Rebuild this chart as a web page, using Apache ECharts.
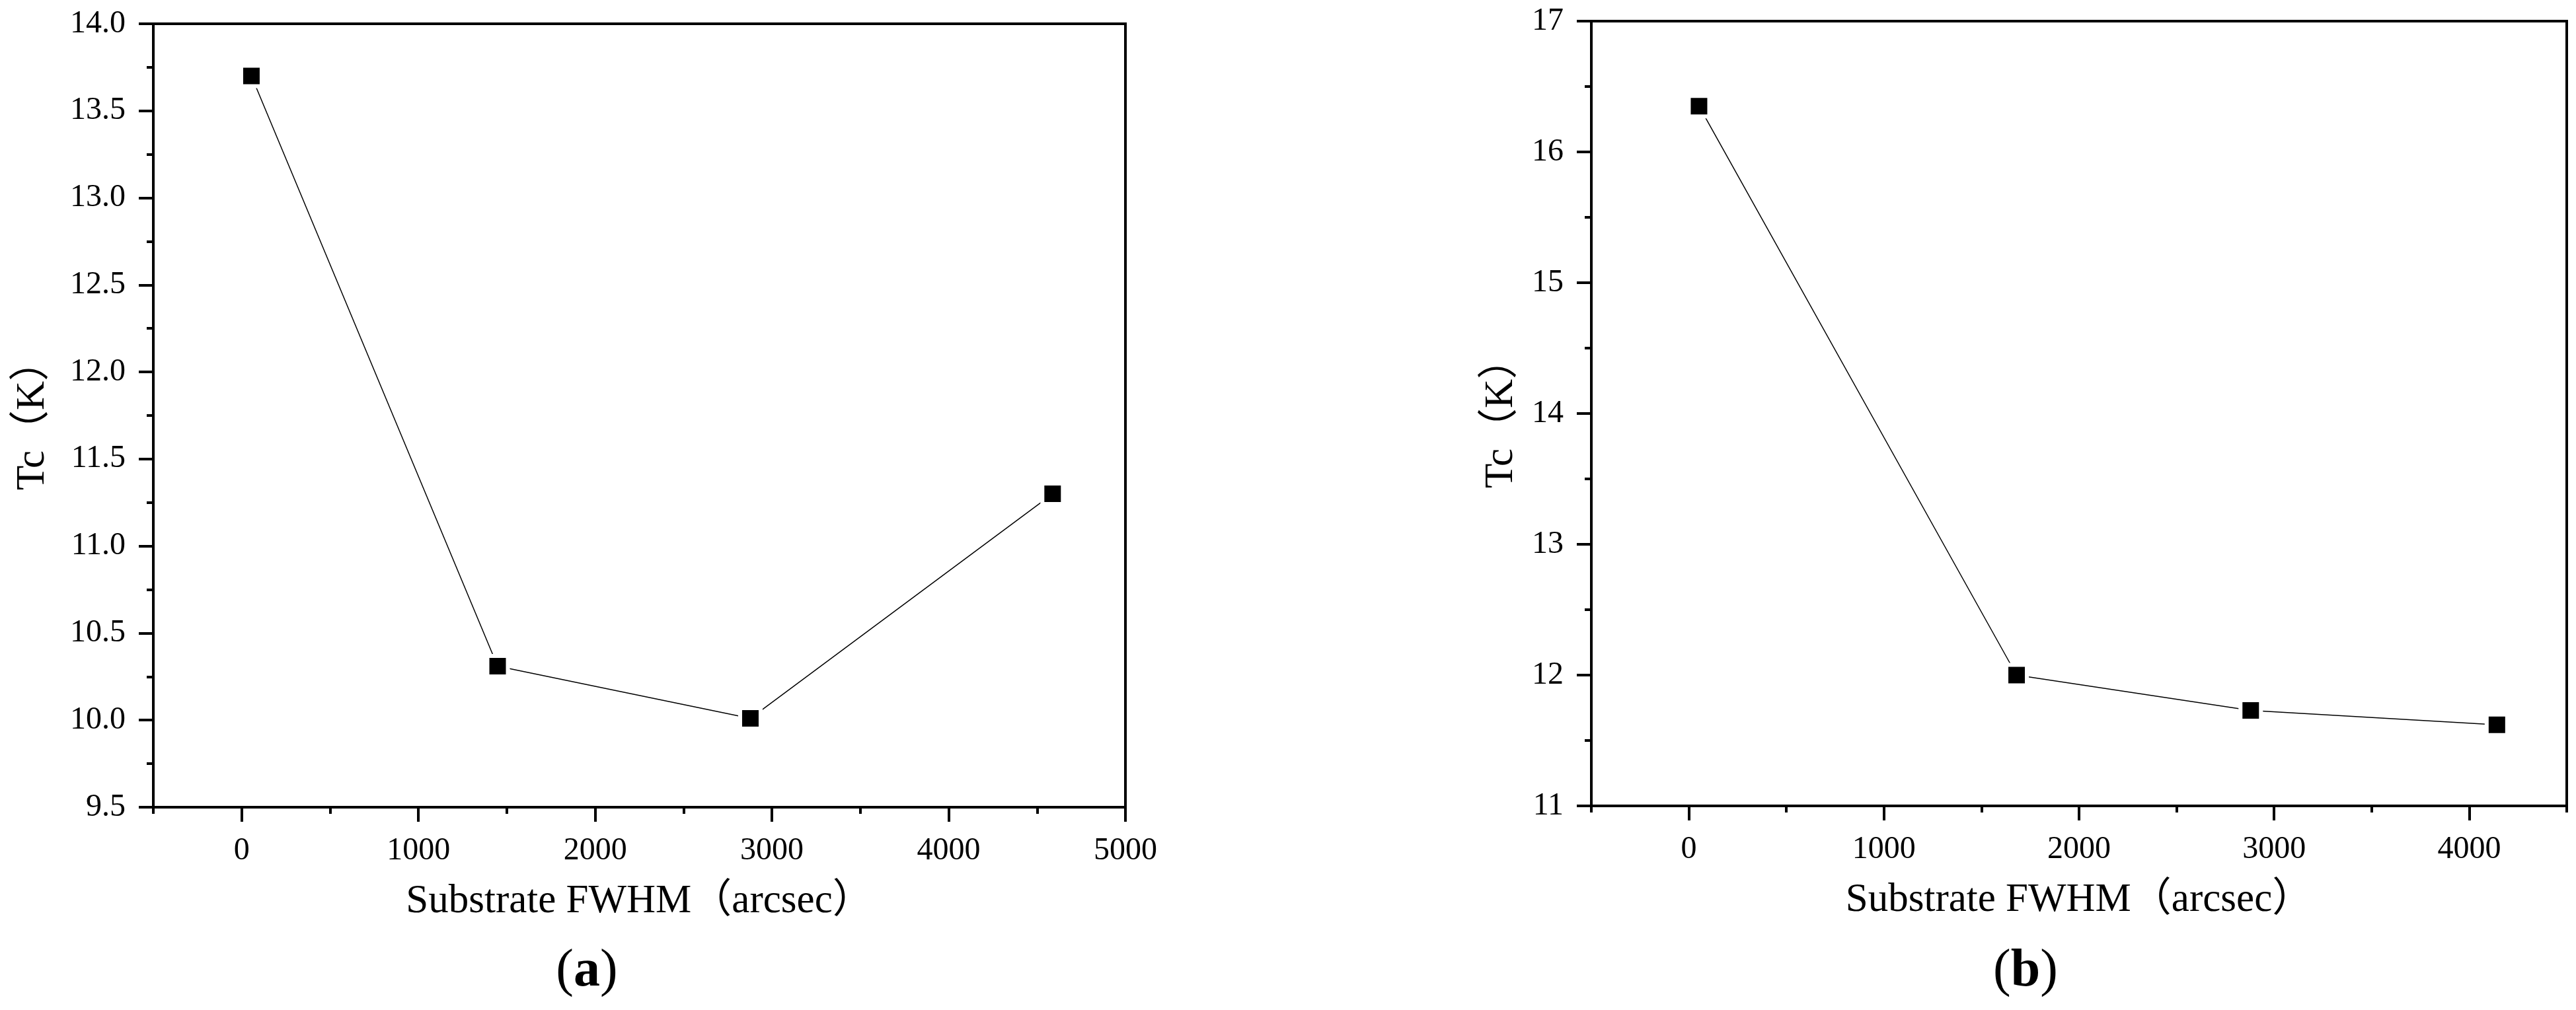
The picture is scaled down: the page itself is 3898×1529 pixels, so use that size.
<!DOCTYPE html>
<html>
<head>
<meta charset="utf-8">
<script src="https://cdn.jsdelivr.net/npm/echarts@6/dist/echarts.min.js"></script>
<style>
html,body{margin:0;padding:0;background:#fff;}
#c{width:3898px;height:1529px;}
</style>
</head>
<body>
<div id="c"></div>
<script>
// ---- data ----
const fwhmA = [55, 1448, 2878, 4588];
const tcA   = [13.70, 10.31, 10.01, 11.30];
const fwhmB = [52, 1680, 2880, 4142];
const tcB   = [16.35, 12.00, 11.73, 11.62];

const xMajorA = [0, 1000, 2000, 3000, 4000, 5000];
const xMinorA = [-500, 500, 1500, 2500, 3500, 4500];
const xMajorB = [0, 1000, 2000, 3000, 4000];
const xMinorB = [-500, 500, 1500, 2500, 3500, 4500];

const xName = 'Substrate FWHM（arcsec）';
const yName = 'Tc（K）';
const panelLabels = ['a', 'b'];

// ---- styling ----
const SERIF = "'Liberation Serif','Noto Sans CJK SC',serif";
const NAMEFONT = "'Liberation Serif','Noto Sans CJK SC',serif";
const AXW = 4;

function pairsOf(xs, ys) { return xs.map((x, i) => [x, ys[i]]); }

function xAxesFor(gridIndex, min, max, major, minor) {
  return [
    {
      type: 'value', gridIndex, min, max, position: 'bottom',
      name: xName, nameLocation: 'middle', nameGap: 112,
      nameTextStyle: { fontFamily: NAMEFONT, fontSize: 61, color: '#000' },
      axisLine: { show: true, onZero: false, lineStyle: { color: '#000', width: AXW } },
      axisTick: { show: true, customValues: major, length: 22, lineStyle: { color: '#000', width: AXW } },
      axisLabel: { show: true, customValues: major, margin: 42, fontFamily: SERIF, fontSize: 48, color: '#000',
        formatter: v => String(Math.round(v)) },
      splitLine: { show: false }
    },
    {
      type: 'value', gridIndex, min, max, position: 'bottom', offset: 0,
      axisLine: { show: false, onZero: false },
      axisTick: { show: true, customValues: minor, length: 10, lineStyle: { color: '#000', width: AXW } },
      axisLabel: { show: false, customValues: minor },
      splitLine: { show: false }
    }
  ];
}

function yAxisFor(gridIndex, min, max, interval, nameGap, digits) {
  return {
    type: 'value', gridIndex, min, max, interval, position: 'left',
    name: yName, nameLocation: 'middle', nameGap,
    nameTextStyle: { fontFamily: NAMEFONT, fontSize: 61, color: '#000' },
    axisLine: { show: true, onZero: false, lineStyle: { color: '#000', width: AXW } },
    axisTick: { show: true, length: 22, lineStyle: { color: '#000', width: AXW } },
    minorTick: { show: true, splitNumber: 2, length: 10, lineStyle: { color: '#000', width: AXW } },
    axisLabel: { margin: 42, fontFamily: SERIF, fontSize: 48, color: '#000',
      formatter: v => v.toFixed(digits) },
    splitLine: { show: false },
    minorSplitLine: { show: false }
  };
}

function seriesFor(idx, data) {
  return {
    type: 'line', xAxisIndex: idx * 2, yAxisIndex: idx, data,
    symbol: 'rect', symbolSize: 31,
    itemStyle: { color: '#000', borderColor: '#fff', borderWidth: 6 },
    lineStyle: { color: '#000', width: 1.5 },
    z: 3
  };
}

const chart = echarts.init(document.getElementById('c'), null, { renderer: 'canvas' });
chart.setOption({
  animation: false,
  backgroundColor: '#fff',
  grid: [
    { left: 232, top: 36, width: 1471, height: 1186, show: true, borderColor: '#000', borderWidth: AXW, backgroundColor: '#fff' },
    { left: 2408, top: 32, width: 1476, height: 1188, show: true, borderColor: '#000', borderWidth: AXW, backgroundColor: '#fff' }
  ],
  xAxis: [
    ...xAxesFor(0, -500, 5000, xMajorA, xMinorA),
    ...xAxesFor(1, -500, 4500, xMajorB, xMinorB)
  ],
  yAxis: [
    yAxisFor(0, 9.5, 14, 0.5, 152, 1),
    yAxisFor(1, 11, 17, 1, 106, 0)
  ],
  series: [
    seriesFor(0, pairsOf(fwhmA, tcA)),
    seriesFor(1, pairsOf(fwhmB, tcB))
  ],
  graphic: [
    { type: 'text', x: 888, y: 1471, style: { text: '(' + '{b|' + panelLabels[0] + '})', align: 'center', verticalAlign: 'middle',
      font: "80px 'Liberation Serif', serif", fill: '#000',
      rich: { b: { fontFamily: 'Liberation Serif', fontWeight: 'bold', fontSize: 80, fill: '#000' } } } },
    { type: 'text', x: 3065, y: 1471, style: { text: '(' + '{b|' + panelLabels[1] + '})', align: 'center', verticalAlign: 'middle',
      font: "80px 'Liberation Serif', serif", fill: '#000',
      rich: { b: { fontFamily: 'Liberation Serif', fontWeight: 'bold', fontSize: 80, fill: '#000' } } } }
  ]
});
</script>
</body>
</html>
